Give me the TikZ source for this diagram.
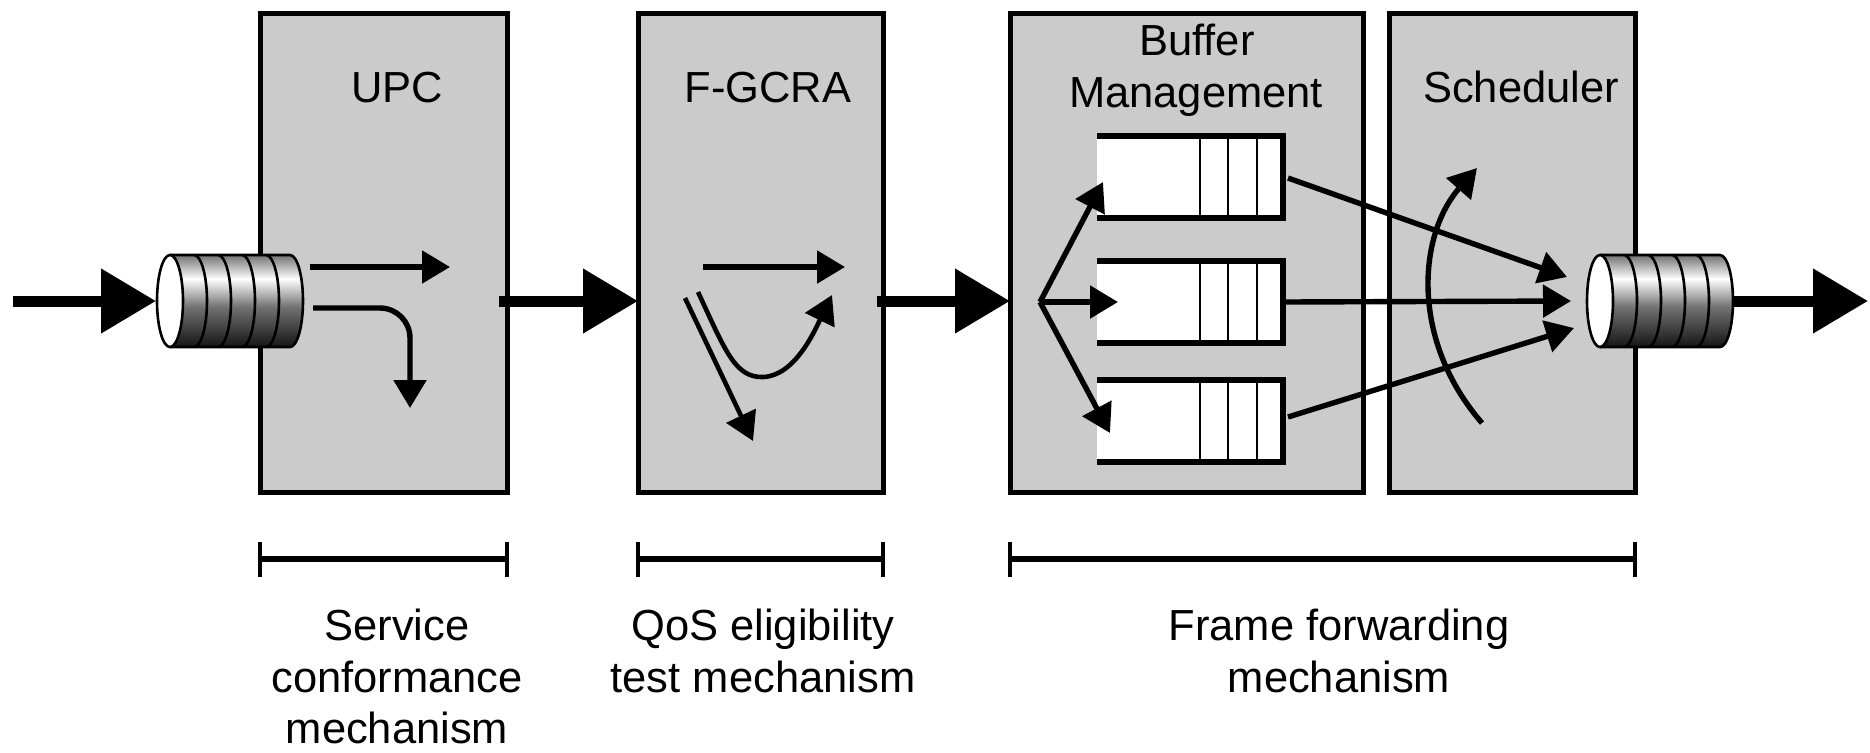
\documentclass[tikz,border=0pt]{standalone}
\usepackage{fontspec}
\setmainfont{Liberation Sans}
\usetikzlibrary{arrows.meta,calc}
\definecolor{boxgray}{HTML}{CBCBCB}
\pgfdeclareverticalshading{cylshade}{100bp}{color(0bp)=(black!92); color(25bp)=(black!92); color(47bp)=(black!55); color(62bp)=(white); color(75bp)=(black!55); color(100bp)=(black!55)}
\newcommand{\lblfont}{\fontsize{21.75pt}{26pt}\selectfont}
\tikzset{
  cylline/.style={line width=1.3pt},
  cyl/.pic={
    \shade[shading=cylshade] (0,-46) -- (120,-46) arc[start angle=-90,end angle=90,x radius=13,y radius=46] -- (0,46) -- cycle;
    \foreach \k in {24,48,72,96} { \draw[cylline] (\k,-46) arc[start angle=-90,end angle=90,x radius=13,y radius=46]; }
    \draw[cylline] (0,-46) -- (120,-46) arc[start angle=-90,end angle=90,x radius=13,y radius=46] -- (0,46);
    \draw[cylline,fill=white] (0,0) ellipse[x radius=13,y radius=46];
    \coordinate (-w) at (-14,0);
    \coordinate (-e) at (133,0);
  }
}
\begin{document}
\begin{tikzpicture}[x=0.5pt,y=-0.5pt,
  box/.style={draw=black, line width=2.5pt, fill=boxgray, inner sep=0pt, outer sep=0pt},
  lbl/.style={anchor=base, inner sep=0pt, font=\lblfont},
  bigarrow/.style={line width=5.5pt, -{Triangle[length=27.5pt,width=31pt]}},
  thinarrow/.style={line width=2.7pt, -{Triangle[length=14pt,width=16pt]}},
  qnode/.style={fill=white, inner sep=0pt, outer sep=0pt, minimum width=93pt, minimum height=41pt},
  qline/.style={line width=2.6pt},
  divline/.style={line width=1.4pt},
  barline/.style={line width=2.6pt},
  tickline/.style={line width=2pt}
]
\useasboundingbox (0,0) rectangle (1870,752);

% boxes
\node[box, minimum width=123.5pt, minimum height=239.5pt] (upc) at (383.5,252.5) {};
\node[box, minimum width=122.5pt, minimum height=239.5pt] (fgcra) at (760.5,252.5) {};
\node[box, minimum width=176.5pt, minimum height=239.5pt] (buf) at (1186.5,252.5) {};
\node[box, minimum width=123pt, minimum height=239.5pt] (sch) at (1512,252.5) {};

% box labels
\node[lbl] (lupc) at (397,102) {UPC};
\node[lbl] (lfg) at (768,102) {F-GCRA};
\node[lbl] (lbuf1) at (1197,55) {Buffer};
\node[lbl] (lbuf2) at (1196,107) {Management};
\node[lbl] (lsch) at (1521,102) {Scheduler};

% queues
\node[qnode] (q1) at (1190,177) {};
\node[qnode] (q2) at (1190,302) {};
\node[qnode] (q3) at (1190,421) {};
\foreach \q in {q1,q2,q3} {
  \draw[qline] (\q.north west) -- (\q.north east) -- (\q.south east) -- (\q.south west);
  \foreach \d in {-83,-55,-26} {
    \draw[divline] ($(\q.north east)+(\d,0)$) -- ($(\q.south east)+(\d,0)$);
  }
}

% cylinders
\pic (cin) at (170,301) {cyl};
\pic (cout) at (1600,301) {cyl};

% coordinates
\coordinate (flow) at (0,301);
\coordinate (inS) at (13,301);
\coordinate (outE) at (1868,301);
\coordinate (fan) at (1040,302);

% main flow arrows
\draw[bigarrow] (inS) -- (cin-w);
\draw[bigarrow] ($(upc.east|-flow)+(-8,0)$) -- (fgcra.west|-flow);
\draw[bigarrow] ($(fgcra.east|-flow)+(-6,0)$) -- (buf.west|-flow);
\draw[bigarrow] (cout-e) -- (outE);

% UPC icon
\coordinate (u1s) at (310,267);
\coordinate (u1e) at (450,267);
\draw[thinarrow] (u1s) -- (u1e);
\coordinate (u2s) at (313,308);
\coordinate (u2c) at (410,308);
\coordinate (u2e) at (410,408);
\draw[thinarrow, rounded corners=15pt] (u2s) -- (u2c) -- (u2e);

% F-GCRA icon
\coordinate (f1s) at (703,267);
\coordinate (f1e) at (845,267);
\draw[thinarrow] (f1s) -- (f1e);
\coordinate (f2s) at (685,298);
\coordinate (f2e) at (753,441);
\draw[thinarrow, line width=2.3pt] (f2s) -- (f2e);
\coordinate (f3s) at (698,292);
\coordinate (f3e) at (832,295);
\draw[thinarrow, line width=2.3pt] (f3s) .. controls (725,350) and (735,378) .. (763,377) .. controls (795,376) and (815,330) .. (f3e);

% fan into queues
\draw[thinarrow] (fan) -- ($(q1.west)+(6,5)$);
\draw[thinarrow] (fan) -- ($(q2.west)+(21,0)$);
\draw[thinarrow] (fan) -- ($(q3.west)+(13,12)$);

% merge to output
\draw[thinarrow] ($(q1.east)+(5,1)$) -- ($(cout-w)+(-19,-24)$);
\draw[thinarrow] (q2.east) -- ($(cout-w)+(-15,0)$);
\draw[thinarrow] ($(q3.east)+(5,-4)$) -- ($(cout-w)+(-12,27)$);

% scheduler arc
\coordinate (sa) at (1482,423);
\coordinate (sb) at (1477,168);
\draw[thinarrow] (sa) .. controls (1410,340) and (1418,235) .. (sb);

% brackets
\coordinate (brk) at (0,559);
\draw[barline] (upc.west|-brk) -- (upc.east|-brk);
\draw[barline] (fgcra.west|-brk) -- (fgcra.east|-brk);
\draw[barline] (buf.west|-brk) -- (sch.east|-brk);
\foreach \a in {upc.west,upc.east,fgcra.west,fgcra.east,buf.west,sch.east} {
  \draw[tickline] ($(\a|-brk)+(0,-17)$) -- ($(\a|-brk)+(0,18)$);
}

% bottom labels
\node[lbl] (s1) at (397,640) {Service};
\node[lbl] (s2) at (397,692) {conformance};
\node[lbl] (s3) at (397,743) {mechanism};
\node[lbl] (t1) at (763,640) {QoS eligibility};
\node[lbl] (t2) at (763,692) {test mechanism};
\node[lbl] (r1) at (1339,640) {Frame forwarding};
\node[lbl] (r2) at (1339,692) {mechanism};
\end{tikzpicture}
\end{document}
